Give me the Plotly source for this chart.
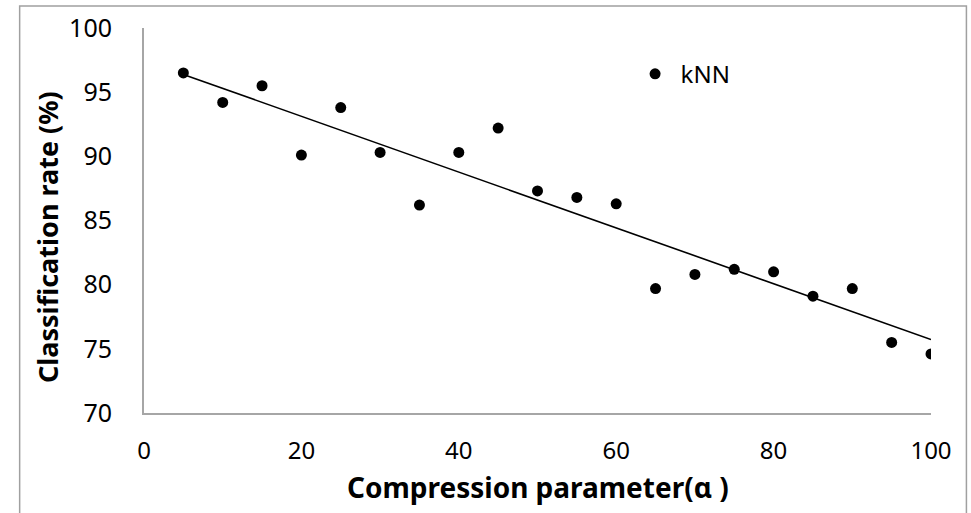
import numpy as np
import plotly.graph_objects as go

alpha = [5, 10, 15, 20, 25, 30, 35, 40, 45, 50, 55, 60, 65, 70, 75, 80, 85, 90, 95, 100]
knn_rate = [96.5, 94.2, 95.5, 90.1, 93.8, 90.3, 86.2, 90.3, 92.2, 87.3, 86.8, 86.3,
            79.7, 80.8, 81.2, 81.0, 79.1, 79.7, 75.5, 74.6]
x_ticks = [0, 20, 40, 60, 80, 100]
y_ticks = [70, 75, 80, 85, 90, 95, 100]

slope, intercept = np.polyfit(alpha, knn_rate, 1)
trend_x = [alpha[0], alpha[-1]]
trend_y = [slope * v + intercept for v in trend_x]

FONT = "Noto Sans"

fig = go.Figure()
fig.add_trace(go.Scatter(
    x=trend_x, y=trend_y, mode="lines",
    line=dict(color="black", width=1.6),
    showlegend=False, hoverinfo="skip"))
fig.add_trace(go.Scatter(
    x=alpha, y=knn_rate, mode="markers", name="kNN",
    marker=dict(color="black", size=11, symbol="circle")))

fig.update_layout(
    width=971, height=513,
    margin=dict(l=144, r=40, t=28, b=100, autoexpand=False),
    paper_bgcolor="white", plot_bgcolor="white",
    font=dict(family=FONT, color="black"),
    legend=dict(x=0.617, y=0.88, xanchor="left", yanchor="middle",
                itemwidth=41,
                font=dict(family=FONT, size=24, color="black"),
                bgcolor="rgba(0,0,0,0)"),
    xaxis=dict(range=[0, 100], tickvals=x_ticks, showgrid=False, zeroline=False,
               showline=True, linecolor="#a6a6a6", linewidth=2, ticks="",
               ticklabelstandoff=15,
               tickfont=dict(family=FONT, size=24, color="black")),
    yaxis=dict(range=[70, 100], tickvals=y_ticks, showgrid=False, zeroline=False,
               showline=True, linecolor="#a6a6a6", linewidth=2, ticks="",
               ticklabelstandoff=25,
               tickfont=dict(family=FONT, size=25, color="black")),
)

# axis titles as text
fig.add_annotation(text="<b>Compression parameter(α )</b>", xref="paper", yref="paper",
                   x=0.5, y=(413.3 - 487) / 385.3, xanchor="center", yanchor="middle",
                   showarrow=False, font=dict(family=FONT, size=28, color="black"))
fig.add_annotation(text="<b>Classification rate (%)</b>", xref="paper", yref="paper",
                   x=(48 - 144.3) / 787, y=(413.3 - 237.5) / 385.3, textangle=-90,
                   xanchor="center", yanchor="middle",
                   showarrow=False, font=dict(family=FONT, size=27, color="black"))

fig.add_shape(type="rect", xref="paper", yref="paper",
              x0=-0.158, x1=1.045, y0=-0.3, y1=1.057,
              line=dict(color="#a0a0a0", width=1.5), fillcolor="rgba(0,0,0,0)",
              layer="below")

fig.write_html("out.html", config={"displayModeBar": False},
               post_script="document.body.style.margin='0';")
